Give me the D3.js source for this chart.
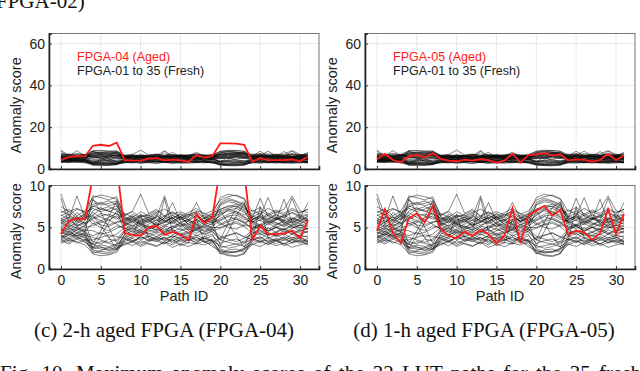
<!DOCTYPE html>
<html>
<head>
<meta charset="utf-8">
<script src="https://d3js.org/d3.v7.min.js"></script>
<style>
    body { margin: 0; background: #fff; }
    svg { display: block; }
    .axis text { font: 14px "Liberation Sans", Arial, sans-serif; fill: #222; }
    .axis .tick line { stroke: #333; }
    .grid line { stroke: #bbb; stroke-width: 0.8px; stroke-dasharray: 1,1.6; }
    .fresh { fill: none; stroke: #000; stroke-width: 0.6px; stroke-opacity: 0.8; }
    .aged { fill: none; stroke: #ff1a1a; stroke-width: 1.8px; }
</style>
</head>
<body>
<svg width="640" height="371"></svg>
<script>
    // path ids on the x axis
    var pathIds = [0,1,2,3,4,5,6,7,8,9,10,11,12,13,14,15,16,17,18,19,20,21,22,23,24,25,26,27,28,29,30,31];
    var xTicks = [0, 5, 10, 15, 20, 25, 30];
    var yTicksTop = [0, 20, 40, 60];
    var yTicksBottom = [0, 5, 10];

    // aged FPGAs (red)
    var aged04 = [4.2,5.8,6.1,6.0,11.1,11.6,11.0,12.6,4.3,4.1,4.0,5.0,5.2,4.1,4.5,4.1,3.5,6.6,5.5,6.2,12.3,12.3,12.1,11.6,3.5,5.2,4.2,4.2,4.3,4.6,3.7,5.9];
    var aged05 = [4.6,7.2,4.3,3.1,6.1,6.7,5.6,7.6,4.8,4.0,3.7,4.5,4.0,4.7,4.2,3.1,4.0,7.3,3.1,6.5,7.0,7.6,6.4,7.1,4.1,4.6,4.4,3.5,4.3,7.2,4.2,6.6];

    // fresh FPGAs 01..35 (black)
    var freshScores = [
        [4.1,3.8,4.4,4.0,2.1,1.9,1.8,2.2,3.6,3.2,3.9,3.5,3.3,3.8,3.1,3.6,3.4,3.9,3.2,3.5,2.0,1.7,1.6,1.9,3.7,3.3,3.5,3.0,3.6,3.2,3.8,3.4],
        [5.6,6.2,5.1,5.8,7.5,7.9,8.2,7.7,5.4,6.0,5.2,5.7,6.3,8.8,5.9,5.1,5.8,6.4,5.6,5.3,7.8,8.3,8.1,7.6,5.9,6.5,5.7,6.2,5.5,6.1,5.8,6.3],
        [3.5,4.2,3.9,3.3,2.6,2.4,2.3,2.7,3.0,3.4,2.9,3.3,3.6,3.1,3.5,2.8,3.2,3.0,3.4,2.7,2.2,2.0,2.1,2.5,3.1,3.5,2.9,3.4,3.0,3.6,3.3,2.9],
        [8.5,5.4,6.8,6.0,6.5,7.2,7.0,6.6,6.1,5.5,6.6,5.9,5.2,6.2,5.7,6.4,5.3,5.9,6.5,5.8,6.4,7.1,7.3,6.8,5.6,6.3,5.9,6.7,5.4,6.0,6.6,5.7],
        [4.6,5.0,4.3,4.8,2.5,4.0,5.6,7.0,4.5,4.9,4.2,4.7,4.4,5.0,4.1,4.6,4.8,4.3,4.9,4.5,3.5,4.0,4.4,3.8,4.7,4.3,5.0,4.4,4.8,4.2,4.6,4.9],
        [9.0,6.4,5.9,6.7,5.8,5.3,5.1,5.6,5.9,6.6,6.1,5.6,6.4,5.8,6.2,5.5,6.0,6.7,5.7,6.3,5.5,5.0,4.8,5.3,6.2,5.8,6.5,5.9,6.3,5.6,6.1,6.0],
        [3.9,3.4,4.1,3.7,1.8,1.6,1.7,2.0,3.5,3.9,6.5,3.7,3.4,3.0,3.8,3.3,3.6,3.1,3.9,3.4,1.9,1.6,1.5,1.8,3.4,3.8,3.2,3.6,3.0,3.5,3.9,3.2],
        [5.0,5.7,6.3,5.4,7.0,7.4,6.9,7.3,5.6,5.2,5.9,6.3,5.5,5.1,5.8,6.2,5.4,5.0,5.7,6.1,7.2,7.6,7.5,7.0,5.5,5.9,5.3,6.0,5.7,5.2,5.8,5.4],
        [4.4,4.0,4.7,5.2,6.5,5.2,3.8,2.4,4.2,4.6,4.0,4.5,4.8,4.3,4.7,4.1,4.4,4.9,4.2,4.6,4.9,5.3,5.5,5.1,4.3,4.7,4.1,4.5,4.9,4.4,4.0,4.6],
        [6.8,7.2,6.4,7.0,8.6,8.9,8.7,8.4,6.5,7.0,9.0,6.7,7.2,6.4,6.9,6.3,6.8,7.3,6.6,7.0,8.3,8.7,8.9,8.5,6.9,7.4,6.6,7.1,6.7,7.3,6.8,7.2],
        [3.3,3.7,3.1,3.5,3.0,2.6,2.5,2.9,3.9,3.4,3.7,4.0,3.5,3.8,3.3,3.9,3.6,3.2,3.7,3.4,2.8,2.5,2.7,3.1,3.6,3.2,3.8,3.4,3.9,3.5,3.1,3.7],
        [5.9,5.3,6.0,5.5,6.0,6.4,6.6,6.2,5.3,5.8,5.4,5.0,5.6,6.1,8.0,5.7,5.9,5.4,5.0,5.5,6.1,6.6,6.9,6.3,5.4,5.1,5.7,5.3,5.9,5.5,5.2,5.6],
        [4.8,4.3,5.0,4.5,5.5,5.0,4.6,5.2,4.9,4.4,4.8,5.2,4.6,8.5,4.5,4.9,4.3,4.8,5.1,4.7,5.4,5.9,6.2,5.7,4.7,5.2,4.5,5.0,4.4,4.9,5.3,4.8],
        [6.5,6.0,8.8,6.2,7.8,8.0,7.6,7.9,5.8,6.3,5.6,6.0,6.5,5.7,6.1,6.6,5.9,5.5,6.2,5.8,7.7,8.1,7.9,7.4,6.4,6.0,6.7,6.1,6.5,5.9,6.3,6.0],
        [3.7,4.5,4.0,4.3,2.3,2.1,2.0,2.4,3.8,4.2,3.5,3.9,4.3,3.6,4.0,3.7,4.1,3.5,3.9,4.2,2.4,2.1,2.0,2.3,3.9,4.3,3.7,4.1,3.6,4.2,3.8,4.0],
        [5.4,5.9,5.2,5.6,3.0,4.6,6.3,8.2,5.2,5.7,5.0,5.4,5.9,5.3,5.6,5.1,5.5,6.0,5.3,5.8,2.8,4.5,6.4,7.9,5.6,5.2,5.8,5.5,5.1,5.7,5.4,5.9],
        [4.3,4.9,4.6,4.1,3.8,3.5,3.2,3.6,4.7,4.1,4.5,4.3,3.9,4.4,4.8,4.2,4.6,4.0,4.4,4.8,3.9,3.6,3.3,3.7,4.2,4.6,4.0,4.4,4.1,4.7,4.3,4.5],
        [6.0,6.6,5.8,6.4,8.8,8.6,8.3,8.7,6.3,5.9,6.5,6.2,5.8,6.4,6.0,6.7,6.2,8.0,6.1,6.6,8.6,9.0,8.8,8.4,6.1,8.5,6.3,6.0,6.4,6.8,6.2,6.5],
        [4.0,3.6,4.3,3.8,2.9,3.3,3.1,2.8,4.1,3.7,4.4,3.9,3.6,4.2,3.8,4.3,3.7,4.1,3.6,4.0,3.1,3.4,3.6,3.2,4.0,3.6,4.3,3.9,4.2,3.7,4.1,3.8],
        [5.7,5.1,5.5,6.1,6.8,6.2,5.9,6.4,5.5,5.1,5.7,6.0,5.3,5.6,6.2,5.4,5.1,5.7,6.1,5.5,6.6,7.0,6.7,6.2,5.8,5.3,6.1,5.6,5.2,5.9,5.5,6.0],
        [3.1,3.5,3.3,2.9,1.9,2.2,2.6,2.3,3.2,2.8,3.4,3.0,2.7,3.3,2.9,3.5,3.1,6.0,3.2,3.0,1.8,2.3,2.4,2.0,2.9,3.3,3.0,3.5,2.8,3.2,3.4,3.0],
        [7.5,6.9,7.3,6.8,7.3,6.9,7.2,7.6,6.4,6.9,6.2,6.6,7.0,6.3,6.8,6.1,6.5,6.9,6.3,6.7,7.2,7.5,7.8,7.3,6.6,7.0,6.4,6.9,6.5,7.1,6.7,7.2],
        [4.5,4.1,4.8,4.4,4.0,4.4,3.8,4.2,5.0,4.6,5.3,4.8,5.1,4.5,5.2,4.7,5.0,4.6,5.3,4.9,7.0,5.5,4.0,2.6,4.9,5.3,4.6,5.1,4.7,5.4,5.0,4.8],
        [5.2,4.7,5.4,5.0,5.2,5.6,5.9,5.4,4.8,5.3,4.6,5.0,5.4,4.7,5.1,5.5,4.9,5.3,4.6,5.2,5.8,6.3,6.0,5.5,5.0,5.4,4.8,5.3,5.7,5.1,4.9,5.3],
        [3.8,4.3,3.6,4.1,2.6,2.9,2.7,3.0,3.3,3.7,3.1,3.5,3.9,3.4,3.6,3.0,3.5,3.8,3.3,3.6,2.6,2.8,3.0,2.7,3.4,7.5,3.7,3.3,3.8,3.1,3.5,3.2],
        [6.4,6.9,6.1,6.6,7.6,7.2,7.5,7.1,6.0,6.4,5.8,6.2,6.7,6.0,6.5,5.9,6.3,6.8,6.1,6.4,7.0,7.3,7.6,7.1,6.3,6.7,6.0,6.5,6.2,6.8,6.4,6.6],
        [4.2,4.6,3.9,4.4,3.3,3.0,3.6,3.4,4.4,4.0,4.7,4.2,4.5,4.1,4.4,4.0,4.3,4.7,4.1,4.5,3.5,3.2,3.0,3.3,4.5,4.1,4.4,4.0,4.6,4.2,4.8,4.3],
        [5.5,5.0,5.8,5.2,6.3,5.8,6.2,6.7,5.6,6.1,5.4,5.8,5.2,5.7,5.5,6.0,5.7,5.3,5.9,5.6,5.9,6.4,6.5,6.0,5.7,6.2,5.5,5.9,8.4,5.6,6.0,5.8],
        [3.4,3.0,3.6,3.2,2.4,2.7,2.2,2.5,2.9,3.3,2.7,3.1,2.8,3.2,2.6,3.0,2.7,3.1,2.9,3.3,2.2,1.9,2.1,2.4,3.0,2.7,3.2,2.8,3.1,2.6,2.9,3.1],
        [6.1,5.6,6.3,5.9,8.3,7.7,7.9,8.2,6.2,5.7,6.3,6.5,6.0,5.6,6.4,6.1,6.6,6.2,5.8,6.3,8.0,8.5,8.2,7.8,6.0,6.4,8.6,6.2,5.9,8.5,6.1,8.0],
        [4.7,5.3,4.9,4.5,8.5,6.8,5.0,3.1,4.6,5.0,4.4,4.8,5.1,4.5,4.9,5.3,4.7,5.1,4.5,4.9,3.5,5.6,7.4,8.1,4.8,5.1,4.6,5.0,4.7,5.2,4.5,4.9],
        [5.8,6.3,5.6,6.5,5.4,5.8,5.3,5.7,5.7,6.2,5.5,5.9,6.2,5.8,5.6,6.3,5.9,6.4,5.7,6.1,5.3,5.7,6.0,5.6,5.9,6.4,5.6,6.1,5.8,6.2,5.7,6.4],
        [3.6,3.2,3.8,3.5,3.5,3.8,4.1,3.9,3.7,3.3,3.9,3.4,3.8,3.5,4.0,3.6,3.9,3.4,3.7,3.2,3.8,4.1,4.3,3.9,3.5,3.9,3.3,3.7,3.4,3.8,3.6,3.3],
        [7.0,6.5,7.2,6.9,6.1,6.7,6.4,6.0,6.7,6.2,6.9,6.4,6.8,7.2,6.6,6.9,6.5,7.0,6.7,6.2,6.7,7.2,6.9,6.5,7.1,6.6,7.3,6.8,7.2,8.8,7.0,6.8],
        [4.9,4.5,5.1,4.7,4.6,4.2,4.4,4.9,5.3,4.8,5.5,5.1,4.7,5.2,4.9,5.6,5.2,4.8,5.4,5.0,5.0,5.4,5.7,5.2,5.2,4.8,5.5,5.0,5.4,4.9,5.3,5.1]
    ];

    var svg = d3.select("svg");
    var frameW = 270;
    var topBox = { y: 33.5, h: 135.5 },
        botBox = { y: 185.5, h: 83.5 };

    var panels = [
        { left: 49, aged: aged04, name: "FPGA-04 (Aged)", caption: "(c) 2-h aged FPGA (FPGA-04)", capX: 164 },
        { left: 365, aged: aged05, name: "FPGA-05 (Aged)", caption: "(d) 1-h aged FPGA (FPGA-05)", capX: 484 }
    ];

    var x = d3.scaleLinear().domain([-1.5, 32.38]).range([0, frameW]);
    var yTop = d3.scaleLinear().domain([0, 64.8]).range([topBox.h, 0]);
    var yBot = d3.scaleLinear().domain([0, 10.05]).range([botBox.h, 0]);

    var clipN = 0;

    function drawBox(left, box, y, yTicks, aged, showXLabels) {
        var g = svg.append("g").attr("transform", "translate(" + left + "," + box.y + ")");
        var id = "clip" + (clipN++);
        g.append("clipPath").attr("id", id)
            .append("rect").attr("width", frameW).attr("height", box.h);

        // grid
        var grid = g.append("g").attr("class", "grid");
        grid.selectAll(".gx").data(xTicks).enter().append("line")
            .attr("x1", function(d) { return x(d); }).attr("x2", function(d) { return x(d); })
            .attr("y1", 0).attr("y2", box.h);
        grid.selectAll(".gy").data(yTicks.filter(function(d) { return d > 0 && y(d) > 1; })).enter().append("line")
            .attr("x1", 0).attr("x2", frameW)
            .attr("y1", function(d) { return y(d); }).attr("y2", function(d) { return y(d); });

        var line = d3.line()
            .x(function(d, i) { return x(pathIds[i]); })
            .y(function(d) { return y(d); });

        var plot = g.append("g").attr("clip-path", "url(#" + id + ")");
        plot.selectAll(".fresh").data(freshScores).enter().append("path")
            .attr("class", "fresh")
            .attr("d", line);
        plot.append("path").datum(aged).attr("class", "aged").attr("d", line);

        // frame
        g.append("rect").attr("width", frameW).attr("height", box.h)
            .attr("fill", "none").attr("stroke", "#777").attr("stroke-width", 1);

        var ax = g.append("g").attr("class", "axis")
            .call(d3.axisLeft(y).tickValues(yTicks).tickSize(-3).tickPadding(4));
        ax.select(".domain").attr("stroke", "#222").attr("stroke-width", 1.6);

        var bx = g.append("g").attr("class", "axis")
            .attr("transform", "translate(0," + box.h + ")")
            .call(d3.axisBottom(x).tickValues(xTicks).tickSize(-3).tickPadding(6)
                .tickFormat(showXLabels ? d3.format("d") : ""));
        bx.select(".domain").attr("stroke", "#222").attr("stroke-width", 1.6);
        return g;
    }

    var sans = "'Liberation Sans', Arial, sans-serif";
    var serif = "'Liberation Serif', 'Times New Roman', serif";

    panels.forEach(function(p) {
        var gt = drawBox(p.left, topBox, yTop, yTicksTop, p.aged, false);
        drawBox(p.left, botBox, yBot, yTicksBottom, p.aged, true);

        gt.append("text").attr("x", 28).attr("y", 27.5)
            .style("font", "12.5px " + sans).attr("fill", "#ff1a1a").text(p.name);
        gt.append("text").attr("x", 28).attr("y", 41.5)
            .style("font", "12.5px " + sans).attr("fill", "#222").text("FPGA-01 to 35 (Fresh)");

        [topBox, botBox].forEach(function(b) {
            svg.append("text")
                .attr("transform", "translate(" + (p.left - 28) + "," + (b.y + b.h / 2 + 4) + ") rotate(-90)")
                .attr("text-anchor", "middle")
                .style("font", "14.5px " + sans).attr("fill", "#222")
                .text("Anomaly score");
        });

        svg.append("text").attr("x", p.left + frameW / 2).attr("y", 301)
            .attr("text-anchor", "middle")
            .style("font", "14.5px " + sans).attr("fill", "#222").text("Path ID");

        svg.append("text").attr("x", p.capX).attr("y", 337)
            .attr("text-anchor", "middle")
            .style("font", "21px " + serif).attr("fill", "#111").text(p.caption);
    });

    // cut-off caption lines from the surrounding page
    svg.append("text").attr("x", -4).attr("y", 8)
        .style("font", "21px " + serif).attr("fill", "#111").text("FPGA-02)");
    svg.append("text").attr("x", 0).attr("y", 380)
        .style("font", "21px " + serif).style("word-spacing", "3px").attr("fill", "#111")
        .text("Fig. 10.  Maximum anomaly scores of the 32 LUT paths for the 35 fresh");
</script>
</body>
</html>
